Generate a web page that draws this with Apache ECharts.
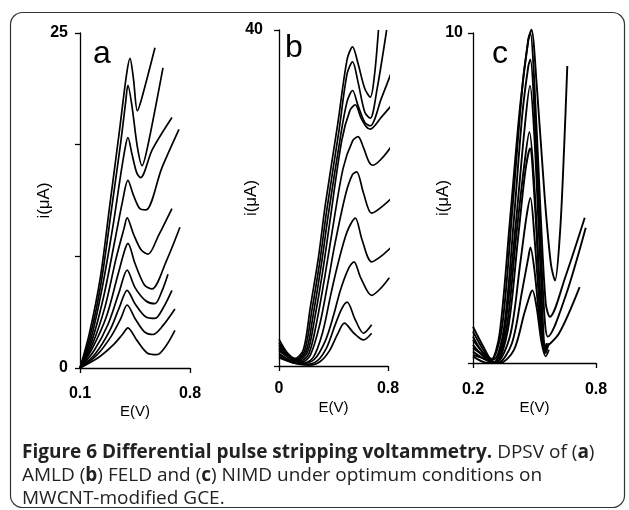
<!DOCTYPE html>
<html><head><meta charset="utf-8">
<script src="https://cdn.jsdelivr.net/npm/echarts@6/dist/echarts.min.js"></script>
<style>html,body{margin:0;padding:0;background:#fff}#c{width:629px;height:510px}</style>
</head><body><div id="c"></div>
<script>
// ---- Panel labels and tick labels ----
const panelLetters = ['a', 'b', 'c'];
const xTicksA = [0.1, 0.8];
const xTicksB = [0, 0.8];
const xTicksC = [0.2, 0.8];
const yTicksA = [0, 25 / 3, 50 / 3, 25];
const yLabelsA = [0, 25];
const yTicksB = [0, 40];
const yLabelsB = [40];
const yTicksC = [0, 10];
const yLabelsC = [10];
const xName = 'E(V)';
const yName = 'i(μA)';

// ---- Panel a : AMLD, [E (V), i (µA)] ----
const a1 = [[0.1,0],[0.16,2.6],[0.23,6.8],[0.29,12.2],[0.35,17.6],[0.395,21.8],[0.418,23.1],[0.44,21.6],[0.465,19.2],[0.49,20.0],[0.577,23.9]];
const a2 = [[0.1,0],[0.165,2.4],[0.235,6.4],[0.30,11.8],[0.36,16.9],[0.39,19.8],[0.405,21.1],[0.43,19.6],[0.465,16.5],[0.495,15.1],[0.53,16.5],[0.628,22.4]];
const a3 = [[0.1,0],[0.17,2.2],[0.24,5.9],[0.31,10.6],[0.36,14.5],[0.39,16.6],[0.405,17.2],[0.43,16.0],[0.46,14.6],[0.485,14.2],[0.56,16.3],[0.685,18.7]];
const a4 = [[0.1,0],[0.175,2.0],[0.25,5.3],[0.32,9.4],[0.37,12.4],[0.405,14.0],[0.44,12.9],[0.48,11.9],[0.52,11.8],[0.62,14.9],[0.73,17.8]];
const a5 = [[0.1,0],[0.18,1.8],[0.26,4.6],[0.33,8.2],[0.38,10.4],[0.40,11.2],[0.44,10.0],[0.49,8.8],[0.533,8.5],[0.60,9.9],[0.685,11.9]];
const a6 = [[0.1,0],[0.18,1.5],[0.27,3.9],[0.34,6.9],[0.385,8.8],[0.405,9.3],[0.45,7.8],[0.51,6.2],[0.558,5.9],[0.65,8.0],[0.736,10.5]];
const a7 = [[0.1,0],[0.19,1.3],[0.28,3.3],[0.35,5.7],[0.40,7.3],[0.45,6.0],[0.52,5.0],[0.577,4.8],[0.62,5.7],[0.66,7.0]];
const a8 = [[0.1,0],[0.2,1.1],[0.29,2.8],[0.35,4.5],[0.40,5.8],[0.45,4.8],[0.52,3.8],[0.577,3.7],[0.63,4.5],[0.685,5.8]];
const a9 = [[0.1,0],[0.21,1.0],[0.3,2.4],[0.36,3.7],[0.40,4.7],[0.45,3.7],[0.51,2.7],[0.564,2.5],[0.63,3.2],[0.704,4.4]];
const a10 = [[0.1,0],[0.22,0.8],[0.31,1.7],[0.37,2.5],[0.405,3.0],[0.46,2.1],[0.53,1.1],[0.59,1.0],[0.65,1.7],[0.704,2.8]];

// ---- Panel b : FELD ----
const b1 = [[0,3.2],[0.06,1.6],[0.12,0.9],[0.18,2.0],[0.23,7.0],[0.29,13],[0.34,19.2],[0.43,28.7],[0.50,36.5],[0.54,38.0],[0.58,36.0],[0.63,33.0],[0.67,32.0],[0.70,34.5],[0.73,40.0]];
const b2 = [[0,2.8],[0.07,1.3],[0.13,0.8],[0.19,1.9],[0.24,6.5],[0.30,12.5],[0.35,18.5],[0.44,28],[0.50,34.8],[0.54,36.2],[0.58,33.8],[0.63,30.2],[0.67,29.5],[0.72,33],[0.79,40.0]];
const b3 = [[0,2.5],[0.07,1.1],[0.13,0.7],[0.20,1.8],[0.25,6],[0.31,12],[0.36,17.8],[0.45,27.2],[0.50,31.5],[0.54,32.8],[0.58,31.0],[0.63,29.0],[0.67,28.6],[0.75,31.8],[0.84,35.6]];
const b4 = [[0,2.2],[0.08,1.0],[0.14,0.6],[0.21,1.7],[0.26,5.5],[0.32,11.2],[0.37,16.8],[0.46,26.8],[0.52,30.4],[0.56,31.1],[0.60,29.6],[0.64,28.5],[0.67,28.2],[0.75,29.6],[0.84,31.3]];
const b5 = [[0,2.0],[0.08,0.9],[0.15,0.5],[0.22,1.5],[0.28,5.5],[0.34,11],[0.39,16],[0.47,23.5],[0.54,26.8],[0.58,27.3],[0.62,26.0],[0.66,24.3],[0.69,23.9],[0.76,24.8],[0.84,26.5]];
const b6 = [[0,1.8],[0.09,0.8],[0.16,0.4],[0.23,1.3],[0.30,5],[0.36,10],[0.41,14.5],[0.49,20.5],[0.54,22.8],[0.57,23.1],[0.62,20.6],[0.68,18.2],[0.78,19.3],[0.87,20.7]];
const b7 = [[0,1.5],[0.09,0.6],[0.17,0.3],[0.25,1.0],[0.32,4],[0.38,8.5],[0.43,12],[0.5,16],[0.56,17.6],[0.61,15.0],[0.68,12.4],[0.76,13.2],[0.84,14.4]];
const b8 = [[0,1.3],[0.1,0.5],[0.18,0.3],[0.26,0.8],[0.34,3],[0.40,6],[0.45,9],[0.51,11.6],[0.55,12.4],[0.60,10.5],[0.68,8.4],[0.75,9.3],[0.81,10.5]];
const b9 = [[0,1.1],[0.1,0.4],[0.2,0.2],[0.28,0.6],[0.35,2.2],[0.41,4.8],[0.46,6.8],[0.50,7.6],[0.56,5.5],[0.62,3.9],[0.68,4.9]];
const b10 = [[0,1.0],[0.12,0.3],[0.22,0.1],[0.3,0.5],[0.37,1.8],[0.43,3.8],[0.48,5.1],[0.55,3.9],[0.62,3.1],[0.68,3.9]];

// ---- Panel c : NIMD ----
const c1 = [[0.2,1.1],[0.25,0.5],[0.29,0.1],[0.33,0.9],[0.38,4.3],[0.43,7.8],[0.47,9.8],[0.485,10.1],[0.51,8.5],[0.55,5.0],[0.58,3.0],[0.60,2.5],[0.625,4.0],[0.645,6.6],[0.66,9.0]];
const c2 = [[0.2,0.95],[0.25,0.4],[0.29,0.1],[0.34,1.0],[0.39,4.5],[0.44,8.3],[0.47,9.8],[0.48,10.0],[0.50,8.4],[0.53,4.5],[0.555,1.8],[0.575,1.4],[0.65,2.6],[0.745,4.4]];
const c3 = [[0.2,0.8],[0.25,0.3],[0.30,0.1],[0.35,1.0],[0.40,4.4],[0.44,7.5],[0.47,9.0],[0.48,9.2],[0.50,7.6],[0.53,3.6],[0.55,1.3],[0.565,0.8],[0.65,2.0],[0.75,4.1]];
const c4 = [[0.2,0.7],[0.25,0.3],[0.30,0.0],[0.35,0.8],[0.41,4.3],[0.45,7.0],[0.478,8.4],[0.50,6.8],[0.53,2.8],[0.555,0.3],[0.57,0.6]];
const c5 = [[0.2,0.55],[0.25,0.2],[0.30,0.0],[0.36,0.9],[0.41,3.8],[0.45,6.0],[0.475,7.0],[0.50,5.3],[0.53,1.8],[0.55,0.4],[0.56,0.6]];
const c6 = [[0.2,0.45],[0.26,0.2],[0.31,0.0],[0.37,1.0],[0.42,3.8],[0.455,5.8],[0.478,6.5],[0.50,5.0],[0.53,1.8],[0.555,0.5],[0.62,0.9],[0.72,2.3]];
const c7 = [[0.2,0.35],[0.26,0.1],[0.31,0.0],[0.38,0.8],[0.43,3.0],[0.46,4.4],[0.48,5.0],[0.50,3.8],[0.53,1.3],[0.55,0.3],[0.56,0.5]];
const c8 = [[0.2,0.25],[0.27,0.1],[0.32,0.0],[0.39,0.6],[0.44,2.2],[0.47,3.2],[0.48,3.5],[0.50,2.8],[0.53,1.0],[0.55,0.4],[0.56,0.6]];
const c9 = [[0.2,0.2],[0.27,0.0],[0.33,0.0],[0.40,0.4],[0.45,1.5],[0.48,2.1],[0.49,2.2],[0.51,1.7],[0.535,0.6],[0.555,0.2],[0.57,0.4]];

const curvesA = [a1,a2,a3,a4,a5,a6,a7,a8,a9,a10];
const curvesB = [b1,b2,b3,b4,b5,b6,b7,b8,b9,b10];
const curvesC = [c1,c2,c3,c4,c5,c6,c7,c8,c9];

// ---- Caption ----
const captionBold = 'Figure 6 Differential pulse stripping voltammetry.';
const captionLines = [
  '{b|' + captionBold + '} DPSV of ({b|a})',
  'AMLD ({b|b}) FELD and ({b|c}) NIMD under optimum conditions on',
  'MWCNT-modified GCE.'
];

const FONT = 'Liberation Sans, Arial, sans-serif';
const chart = echarts.init(document.getElementById('c'), null, {renderer: 'canvas'});

function xAxis(grid, min, max, ticks, margin, gap) {
  return {
    gridIndex: grid, type: 'value', min: min, max: max,
    axisLine: {show: true, onZero: false, lineStyle: {color: '#000', width: 1.3}},
    axisTick: {show: true, customValues: ticks, length: 5, lineStyle: {color: '#000', width: 1.3}},
    axisLabel: {customValues: ticks, margin: margin, color: '#000', fontFamily: FONT, fontWeight: 'bold', fontSize: 16},
    splitLine: {show: false},
    name: xName, nameLocation: 'middle', nameGap: gap, nameMoveOverlap: false,
    nameTextStyle: {color: '#000', fontFamily: FONT, fontSize: 15}
  };
}
function yAxis(grid, min, max, ticks, labels, margin, gap) {
  return {
    gridIndex: grid, type: 'value', min: min, max: max,
    axisLine: {show: true, onZero: false, lineStyle: {color: '#000', width: 1.3}},
    axisTick: {show: true, customValues: ticks, length: 5, lineStyle: {color: '#000', width: 1.3}},
    axisLabel: {customValues: labels, margin: margin, color: '#000', fontFamily: FONT, fontWeight: 'bold', fontSize: 16},
    splitLine: {show: false},
    name: yName, nameLocation: 'middle', nameGap: gap, nameMoveOverlap: false,
    nameTextStyle: {color: '#000', fontFamily: FONT, fontSize: 17}
  };
}
function series(curves, idx, w) {
  return curves.map(d => ({
    type: 'line', xAxisIndex: idx, yAxisIndex: idx, data: d,
    showSymbol: false, smooth: 0.3, clip: false, silent: true,
    lineStyle: {color: '#000', width: w}
  }));
}
function letter(t, left, top) {
  return {text: t, left: left, top: top, padding: 0,
    textStyle: {fontFamily: FONT, fontSize: 32, fontWeight: 'normal', color: '#000'}};
}

const option = {
  animation: false,
  backgroundColor: '#fff',
  grid: [
    {left: 80, top: 33, width: 110, height: 335},
    {left: 279, top: 30, width: 109, height: 336},
    {left: 473, top: 33, width: 123, height: 330}
  ],
  xAxis: [
    xAxis(0, 0.1, 0.8, xTicksA, 18, 36),
    xAxis(1, 0, 0.8, xTicksB, 15, 34),
    xAxis(2, 0.2, 0.8, xTicksC, 19, 37)
  ],
  yAxis: [
    yAxis(0, 0, 25, yTicksA, yLabelsA, 12, 27),
    yAxis(1, 0, 40, yTicksB, yLabelsB, 16, 19),
    yAxis(2, 0, 10, yTicksC, yLabelsC, 10, 21)
  ],
  title: [
    letter(panelLetters[0], 93, 38),
    letter(panelLetters[1], 285, 32),
    letter(panelLetters[2], 492, 38),
    {text: captionLines.join('\n'), left: 22, top: 441, padding: 0,
     textStyle: {fontFamily: 'Open Sans, sans-serif', fontSize: 19, fontWeight: 'normal', lineHeight: 23, color: '#222',
       rich: {b: {fontFamily: 'Open Sans, sans-serif', fontSize: 19, fontWeight: 'bold', lineHeight: 23, color: '#222'}}}}
  ],
  graphic: [
    {type: 'rect', z: -10, silent: true,
     shape: {x: 10.5, y: 12.5, width: 614, height: 495, r: 12},
     style: {fill: 'none', stroke: '#333', lineWidth: 1.2}}
  ],
  series: [].concat(series(curvesA, 0, 1.7), series(curvesB, 1, 1.7), series(curvesC, 2, 1.9))
};
chart.setOption(option);
</script>
</body></html>
